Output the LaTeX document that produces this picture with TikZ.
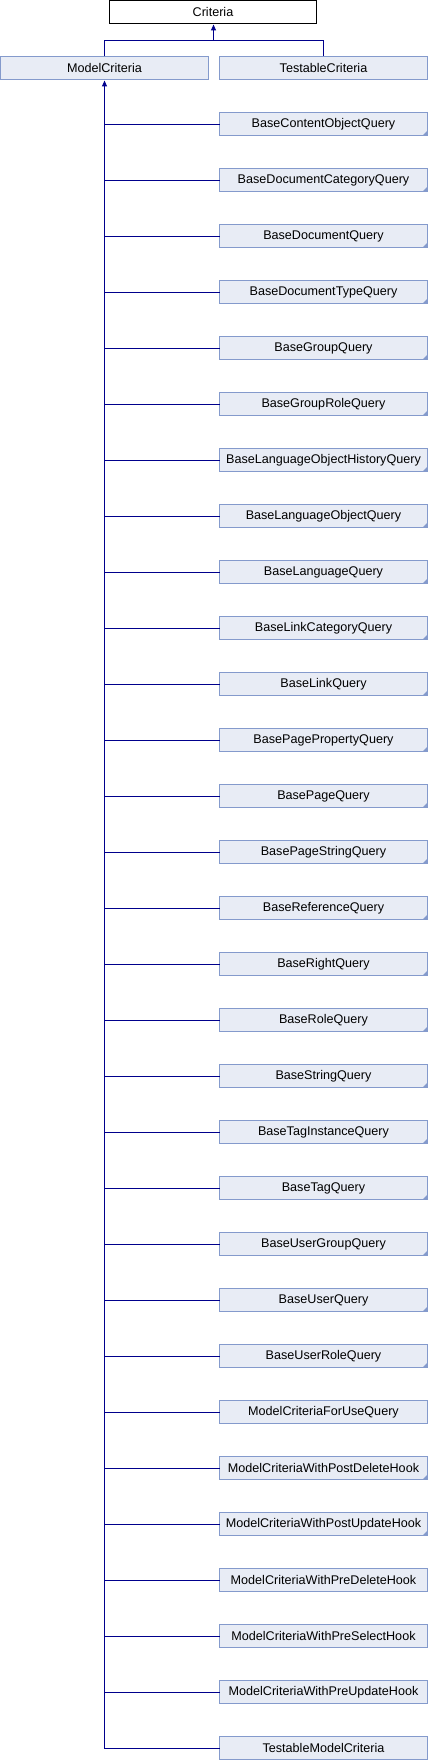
\documentclass[tikz,border=0pt]{standalone}
\usepackage{fontspec}
\setmainfont{Liberation Sans}
\usetikzlibrary{arrows.meta}
\definecolor{edgec}{RGB}{0,0,140}
\definecolor{fillc}{RGB}{232,236,245}
\definecolor{borderc}{RGB}{132,154,204}
\begin{document}
\begin{tikzpicture}[x=1pt,y=-1pt,
  cls/.style={rectangle,draw=borderc,fill=fillc,line width=1pt,minimum width=208pt,minimum height=23pt,inner sep=0pt,outer sep=0pt,font=\fontsize{12.6}{14}\selectfont},
  topcls/.style={cls,draw=black,fill=white,minimum width=207pt},
  edge/.style={draw=edgec,line width=1pt},
  inh/.style={edge,-{Triangle[width=5pt,length=6pt]}}]
\useasboundingbox (0,0) rectangle (428,1760);
\node[topcls] (crit) at (213,12) {Criteria};
\node[cls] (mc) at (104.5,68) {ModelCriteria};
\node[cls] (tc) at (323.5,68) {TestableCriteria};
\coordinate (j) at (213.5,40.5);
\draw[edge] (mc.north) |- (j) -| (tc.north);
\draw[inh,shorten >=1pt] (j) -- (crit.south -| j);
\foreach \t [count=\i] in {BaseContentObjectQuery,BaseDocumentCategoryQuery,BaseDocumentQuery,BaseDocumentTypeQuery,BaseGroupQuery,BaseGroupRoleQuery,BaseLanguageObjectHistoryQuery,BaseLanguageObjectQuery,BaseLanguageQuery,BaseLinkCategoryQuery,BaseLinkQuery,BasePagePropertyQuery,BasePageQuery,BasePageStringQuery,BaseReferenceQuery,BaseRightQuery,BaseRoleQuery,BaseStringQuery,BaseTagInstanceQuery,BaseTagQuery,BaseUserGroupQuery,BaseUserQuery,BaseUserRoleQuery,ModelCriteriaForUseQuery,ModelCriteriaWithPostDeleteHook,ModelCriteriaWithPostUpdateHook,ModelCriteriaWithPreDeleteHook,ModelCriteriaWithPreSelectHook,ModelCriteriaWithPreUpdateHook,TestableModelCriteria}{
  \node[cls] (n\i) at (323.5,{124+56*(\i-1)}) {\t};
  \draw[edge] ([yshift=-0.5pt]n\i.west -| mc.south) -- ([yshift=-0.5pt]n\i.west);
}
\foreach \i in {1,...,23,25,26}{
  \fill[borderc] (n\i.south east) -- ++(-5,0) -- ++(5,-5) -- cycle;
}
\coordinate (trunk) at ([yshift=-0.5pt]mc.south |- n30.west);
\draw[inh,shorten >=1pt] (trunk) -- (mc.south);
\end{tikzpicture}
\end{document}
